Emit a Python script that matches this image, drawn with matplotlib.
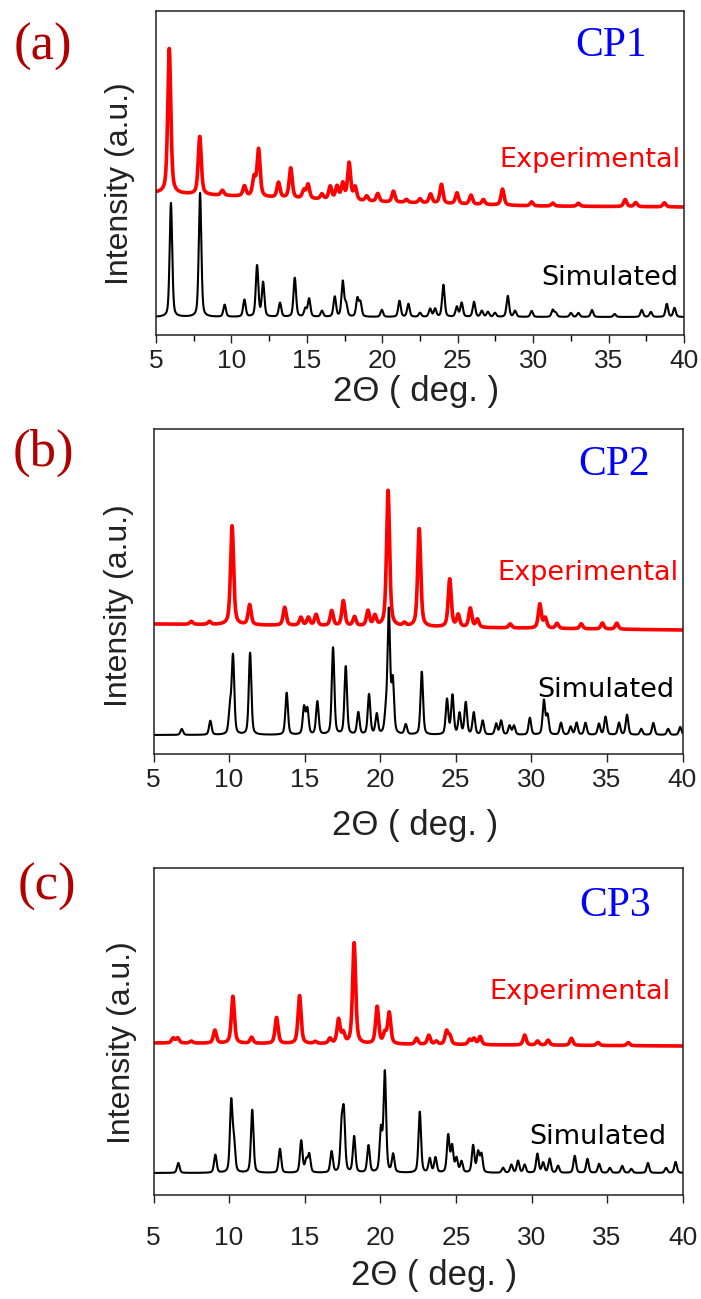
import matplotlib.pyplot as plt
import numpy as np

# peak positions (2theta, deg) and heights (a.u.)
cp1_sim_pos = [5.99, 7.92, 9.55, 10.86, 11.70, 12.10, 13.22, 14.2, 14.9, 15.15, 16.0,
               16.85, 17.38, 17.6, 18.35, 18.55, 19.97, 21.14, 21.73, 22.5, 23.17, 23.5,
               24.05, 24.94, 25.26, 26.08, 26.6, 27.0, 27.47, 28.32, 28.8, 29.9, 31.3,
               31.5, 32.5, 33.0, 33.9, 35.4, 37.2, 37.8, 38.86, 39.37]
cp1_sim_amp = [114, 124, 12, 17, 51, 34, 14, 39, 8, 18, 6,
               20, 35, 12, 18, 14, 7, 16, 13, 4, 8, 8,
               32, 10, 14, 15, 6, 5, 4, 21, 6, 6, 7,
               4, 4, 4, 7, 3, 7, 5, 13, 9]
cp1_exp_pos = [5.88, 7.9, 9.4, 10.86, 11.5, 11.8, 13.12, 13.93, 14.8, 15.08, 16.0,
               16.55, 17.0, 17.38, 17.8, 18.2, 18.97, 19.7, 20.74, 21.6, 22.5, 23.2,
               23.92, 24.95, 25.88, 26.7, 27.97, 29.9, 31.3, 33.0, 36.1, 36.8, 38.7]
cp1_exp_amp = [145, 58, 5, 10, 18, 47, 15, 30, 8, 14, 5,
               13, 13, 16, 37, 13, 5, 8, 11, 3, 4, 9,
               19, 11, 9, 5, 16, 4, 3, 3, 7, 4, 4]
cp1_exp_bg_x = [5, 10, 20, 30, 40]
cp1_exp_bg_y = [142, 139, 133, 129, 128]

cp2_sim_pos = [6.87, 8.76, 10.06, 10.26, 11.39, 13.81, 14.96, 15.18, 15.84, 16.88,
               17.72, 18.55, 19.26, 19.77, 20.37, 20.57, 20.83, 21.69, 22.75, 24.42,
               24.78, 25.25, 25.66, 26.19, 26.78, 27.67, 28.0, 28.56, 28.85, 29.9,
               30.83, 31.07, 31.96, 32.6, 32.99, 33.58, 34.47, 34.91, 35.8, 36.33,
               37.27, 38.07, 39.05, 39.85]
cp2_sim_amp = [6, 14, 25, 78, 82, 42, 27, 25, 33, 87,
               68, 22, 40, 20, 18, 122, 52, 10, 63, 35,
               39, 21, 32, 22, 14, 11, 14, 9, 9, 17,
               34, 19, 12, 8, 12, 12, 11, 18, 12, 20,
               6, 12, 6, 8]
cp2_exp_pos = [7.5, 8.7, 10.2, 11.36, 13.68, 14.75, 15.25, 15.76, 16.79, 17.56,
               18.3, 19.19, 19.65, 20.52, 21.6, 22.58, 24.6, 25.16, 25.96, 26.43,
               28.6, 30.56, 30.92, 31.7, 33.3, 34.7, 35.65]
cp2_exp_amp = [3, 3, 99, 20, 18, 8, 8, 11, 15, 25,
               9, 15, 10, 136, 3, 98, 48, 12, 19, 8,
               4, 24, 10, 5, 5, 6, 6]
cp2_exp_bg_x = [5, 40]
cp2_exp_bg_y = [130, 124]

cp3_sim_pos = [6.64, 9.09, 10.14, 10.32, 11.53, 13.36, 14.77, 15.1, 15.3, 16.78,
               17.44, 17.59, 18.27, 19.22, 20.04, 20.3, 20.85, 22.61, 23.27, 23.65,
               24.49, 24.75, 25.04, 25.37, 26.14, 26.47, 26.69, 28.12, 28.67, 29.11,
               29.55, 30.39, 30.77, 31.2, 31.76, 32.86, 33.7, 34.47, 35.18, 36.0,
               36.6, 37.7, 38.9, 39.53]
cp3_sim_amp = [10, 18, 70, 28, 63, 24, 32, 12, 18, 21,
               42, 56, 36, 27, 42, 100, 18, 61, 14, 15,
               37, 26, 14, 11, 27, 20, 18, 5, 8, 12,
               8, 19, 10, 14, 7, 17, 14, 9, 5, 7,
               4, 10, 5, 11]
cp3_exp_pos = [6.3, 6.6, 7.5, 9.06, 10.25, 11.49, 13.14, 14.66, 15.7, 16.67,
               17.24, 17.55, 18.27, 19.79, 20.3, 20.59, 22.4, 23.21, 23.7, 24.38,
               24.6, 25.9, 26.2, 26.6, 29.55, 30.4, 31.1, 32.64, 34.4, 36.4]
cp3_exp_amp = [5, 5, 2, 13, 47, 6, 26, 48, 2, 5,
               24, 10, 101, 37, 10, 31, 6, 9, 3, 13,
               8, 5, 6, 8, 10, 4, 5, 7, 3, 3]
cp3_exp_bg_x = [5, 40]
cp3_exp_bg_y = [152, 149]

# baseline level of the simulated trace in each panel
sim_offsets = [18, 19, 22]

W, H = 701, 1299


def fx(px):
    return px / W


def fy(py):
    return 1 - py / H


def profile(x, pos, amp, fwhm, eta):
    y = np.zeros_like(x)
    for c, a in zip(pos, amp):
        d = (x - c) / (fwhm / 2)
        y += a * (eta / (1 + d ** 2) + (1 - eta) * np.exp(-np.log(2) * d ** 2))
    return y


x = np.linspace(5, 40, 4001)

fig = plt.figure(figsize=(W / 100, H / 100), dpi=100)

panels = [
    dict(box=(156, 11, 684, 335), sim=(cp1_sim_pos, cp1_sim_amp),
         exp=(cp1_exp_pos, cp1_exp_amp), bg=(cp1_exp_bg_x, cp1_exp_bg_y),
         tag="(a)", tag_xy=(43, 47), name="CP1", name_xy=(611, 56),
         exp_xy=(680, 167), sim_xy=(678, 285), xl_xy=(416, 401),
         yl_xy=(120, 184), minor=True, pad=4),
    dict(box=(153.5, 429, 682.5, 754), sim=(cp2_sim_pos, cp2_sim_amp),
         exp=(cp2_exp_pos, cp2_exp_amp), bg=(cp2_exp_bg_x, cp2_exp_bg_y),
         tag="(b)", tag_xy=(43, 453), name="CP2", name_xy=(614, 475),
         exp_xy=(678, 580), sim_xy=(674, 697), xl_xy=(415, 835),
         yl_xy=(119, 606), minor=False, pad=4),
    dict(box=(153.5, 868, 682.7, 1195), sim=(cp3_sim_pos, cp3_sim_amp),
         exp=(cp3_exp_pos, cp3_exp_amp), bg=(cp3_exp_bg_x, cp3_exp_bg_y),
         tag="(c)", tag_xy=(47, 887), name="CP3", name_xy=(615, 916),
         exp_xy=(670, 999), sim_xy=(666, 1144), xl_xy=(434, 1285),
         yl_xy=(122, 1043), minor=False, pad=16),
]

for p, off in zip(panels, sim_offsets):
    l, t, r, b = p["box"]
    ax = fig.add_axes([fx(l), fy(b), (r - l) / W, (b - t) / H])
    sim = off + profile(x, *p["sim"], fwhm=0.2, eta=0.4)
    bg = np.interp(x, *p["bg"])
    exp = bg + profile(x, *p["exp"], fwhm=0.24, eta=0.55)
    ax.plot(x, exp, color="#ff0000", lw=2.6, solid_joinstyle="round")
    ax.plot(x, sim, color="black", lw=1.5)
    ax.set_xlim(5, 40)
    ax.set_ylim(0, b - t)
    ax.set_yticks([])
    ax.set_xticks(range(5, 41, 5))
    if p["minor"]:
        ax.set_xticks(np.arange(7.5, 40, 5), minor=True)
    ax.tick_params(axis="x", which="major", direction="out", length=6, width=1,
                   labelsize=19, pad=p["pad"], colors="#222222")
    ax.tick_params(axis="x", which="minor", direction="out", length=4, width=1)
    for lab in ax.get_xticklabels():
        lab.set_family("Liberation Sans")
    for s in ax.spines.values():
        s.set_linewidth(1.1)
        s.set_color("#222222")

    fig.text(fx(p["tag_xy"][0]), fy(p["tag_xy"][1]), p["tag"], color="#b00000",
             fontsize=38, family="Liberation Serif", ha="center", va="center")
    fig.text(fx(p["name_xy"][0]), fy(p["name_xy"][1]), p["name"], color="#0000ff",
             fontsize=30, family="Liberation Serif", ha="center", va="baseline")
    fig.text(fx(p["exp_xy"][0]), fy(p["exp_xy"][1]), "Experimental", color="#ff0000",
             fontsize=19.5, family="DejaVu Sans", ha="right", va="baseline")
    fig.text(fx(p["sim_xy"][0]), fy(p["sim_xy"][1]), "Simulated", color="black",
             fontsize=19.5, family="DejaVu Sans", ha="right", va="baseline")
    fig.text(fx(p["xl_xy"][0]), fy(p["xl_xy"][1]), "2\u0398 ( deg. )", color="#222222",
             fontsize=25, family="Liberation Sans", ha="center", va="baseline")
    fig.text(fx(p["yl_xy"][0]), fy(p["yl_xy"][1]), "Intensity (a.u.)", color="#222222",
             fontsize=23, family="Liberation Sans", ha="center", va="center",
             rotation=90)

fig.savefig("out.png", dpi=100)
